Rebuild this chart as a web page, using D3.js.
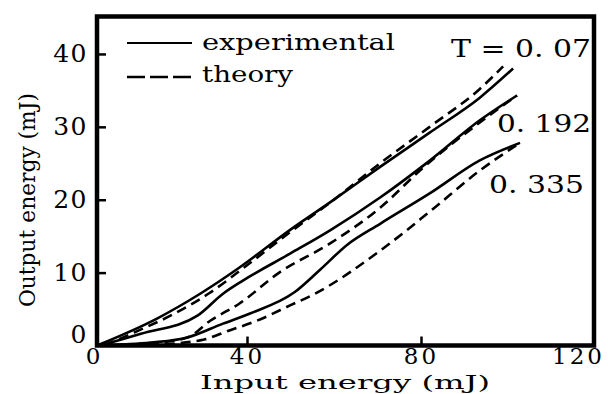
<!DOCTYPE html>
<html>
<head>
<meta charset="utf-8">
<script src="https://cdn.jsdelivr.net/npm/d3@7"></script>
<style>
  html, body { margin: 0; padding: 0; background: #fff; }
  svg { display: block; }
  text { font-family: "DejaVu Serif", "Liberation Serif", serif; fill: #000; }
</style>
</head>
<body>
<svg id="chart" width="608" height="394"></svg>
<script>
// ---- data (input energy mJ, output energy mJ) ----
const xTicks = [0, 40, 80, 120];
const yTicks = [0, 10, 20, 30, 40];

const exp007 = [[0,0],[16,3.7],[27.5,7.1],[38,10.7],[50,15.9],[59,19.6],[70.6,24.5],[82,29.2],[93.6,34.0],[101.3,38.0]];
const th007  = [[2,0],[10,1.8],[20,4.2],[30,7.2],[40,11.0],[50,15.6],[60,20.0],[70.6,25.0],[82,30.0],[93.6,35.2],[99,38.3]];

const exp0192 = [[1,0],[11.7,1.6],[26.8,4.1],[33.6,7.1],[38.9,8.9],[49.9,12.6],[59.1,15.8],[70.6,20.3],[82.1,25.4],[93.6,30.9],[102.2,34.3]];
const th0192  = [[1,0],[14.3,0.3],[24.1,1.1],[30.2,3.4],[38.1,5.8],[47.4,10.0],[59.1,14.0],[70.6,18.9],[80.5,24.4],[93.6,30.6],[102.2,34.3]];

const exp0335 = [[1,0],[14.3,0.4],[24.1,1.1],[33.6,3.0],[40.7,4.4],[50.9,7.3],[56.8,10.4],[63.0,13.8],[70.6,16.7],[82.1,20.9],[93.6,25.4],[102.9,27.8]];
const th0335  = [[1,0],[14.3,0.1],[27.5,0.7],[35.5,2.1],[42.3,3.4],[49.9,5.5],[55.6,7.1],[70.6,13.0],[82.1,18.4],[93.6,24.0],[102.9,27.8]];

const seriesLabels = ["T = 0. 07", "0. 192", "0. 335"];
const legendLabels = ["experimental", "theory"];
const xTitle = "Input energy (mJ)";
const yTitle = "Output energy (mJ)";

// ---- layout ----
const svg = d3.select("#chart");
const L = 97, R = 594, T = 16.5, B = 345.5;

const x = d3.scaleLinear().domain(xTicks).range([97, 247, 421, 594]);
const y = d3.scaleLinear().domain([0, 45]).range([345.5, 17.5]);

// frame
svg.append("rect").attr("x", L).attr("y", T).attr("width", R - L).attr("height", B - T)
  .attr("fill", "none").attr("stroke", "#000").attr("stroke-width", 4.5);

// y axis
const gy = svg.append("g").attr("transform", `translate(${L},0)`)
  .call(d3.axisLeft(y).tickValues(yTicks).tickSizeInner(-9).tickSizeOuter(0).tickPadding(9).tickFormat(d3.format("d")));
gy.select(".domain").remove();
gy.selectAll(".tick line").attr("stroke", "#000").attr("stroke-width", 2.5)
  .attr("display", d => d === 0 ? "none" : null);
gy.selectAll(".tick text").attr("font-size", 25).attr("font-family", "DejaVu Serif")
  .attr("letter-spacing", 1.5)
  .attr("dy", d => d === 0 ? "-0.12em" : "0.32em");

// x axis
const gx = svg.append("g").attr("transform", `translate(0,${B})`)
  .call(d3.axisBottom(x).tickValues(xTicks).tickSizeInner(-9).tickSizeOuter(0).tickPadding(4).tickFormat(d3.format("d")));
gx.select(".domain").remove();
gx.selectAll(".tick line").attr("stroke", "#000").attr("stroke-width", 2.5)
  .attr("display", d => (d === 0 || d === 120) ? "none" : null);
gx.selectAll(".tick text").attr("font-size", 23).attr("font-family", "DejaVu Serif")
  .attr("letter-spacing", 3).attr("dy", "0.62em")
  .attr("dx", d => d === 0 ? -3 : (d === 120 ? -16 : 0));

// titles
svg.append("text").attr("x", 200).attr("y", 389).attr("font-size", 19)
  .attr("textLength", 290).attr("lengthAdjust", "spacingAndGlyphs").text(xTitle);
svg.append("text").attr("transform", "translate(35,200) rotate(-90)").attr("text-anchor", "middle")
  .attr("font-size", 22).attr("textLength", 214).attr("lengthAdjust", "spacingAndGlyphs").text(yTitle);

// lines
const line = d3.line().x(d => x(d[0])).y(d => y(d[1])).curve(d3.curveMonotoneX);
const solid = [exp007, exp0192, exp0335];
const dashed = [th007, th0192, th0335];
svg.append("g").selectAll("path.th").data(dashed).join("path")
  .attr("d", line).attr("fill", "none").attr("stroke", "#000").attr("stroke-width", 2.6)
  .attr("stroke-dasharray", "10,6");
svg.append("g").selectAll("path.ex").data(solid).join("path")
  .attr("d", line).attr("fill", "none").attr("stroke", "#000").attr("stroke-width", 2.6);

// series labels
const lblPos = [[451, 57, 140], [497, 132, 94], [489, 193, 95]];
svg.append("g").selectAll("text").data(seriesLabels).join("text")
  .attr("x", (d, i) => lblPos[i][0]).attr("y", (d, i) => lblPos[i][1])
  .attr("textLength", (d, i) => lblPos[i][2]).attr("lengthAdjust", "spacingAndGlyphs")
  .attr("font-size", 24).text(d => d);

// legend
const lg = svg.append("g");
lg.append("line").attr("x1", 127).attr("x2", 192).attr("y1", 43).attr("y2", 43)
  .attr("stroke", "#000").attr("stroke-width", 2.2);
lg.append("line").attr("x1", 127).attr("x2", 192).attr("y1", 77).attr("y2", 77)
  .attr("stroke", "#000").attr("stroke-width", 2.6).attr("stroke-dasharray", "18,5");
lg.append("text").attr("x", 202).attr("y", 50).attr("font-size", 22)
  .attr("textLength", 193).attr("lengthAdjust", "spacingAndGlyphs").text(legendLabels[0]);
lg.append("text").attr("x", 202).attr("y", 82).attr("font-size", 22)
  .attr("textLength", 91).attr("lengthAdjust", "spacingAndGlyphs").text(legendLabels[1]);
</script>
</body>
</html>
